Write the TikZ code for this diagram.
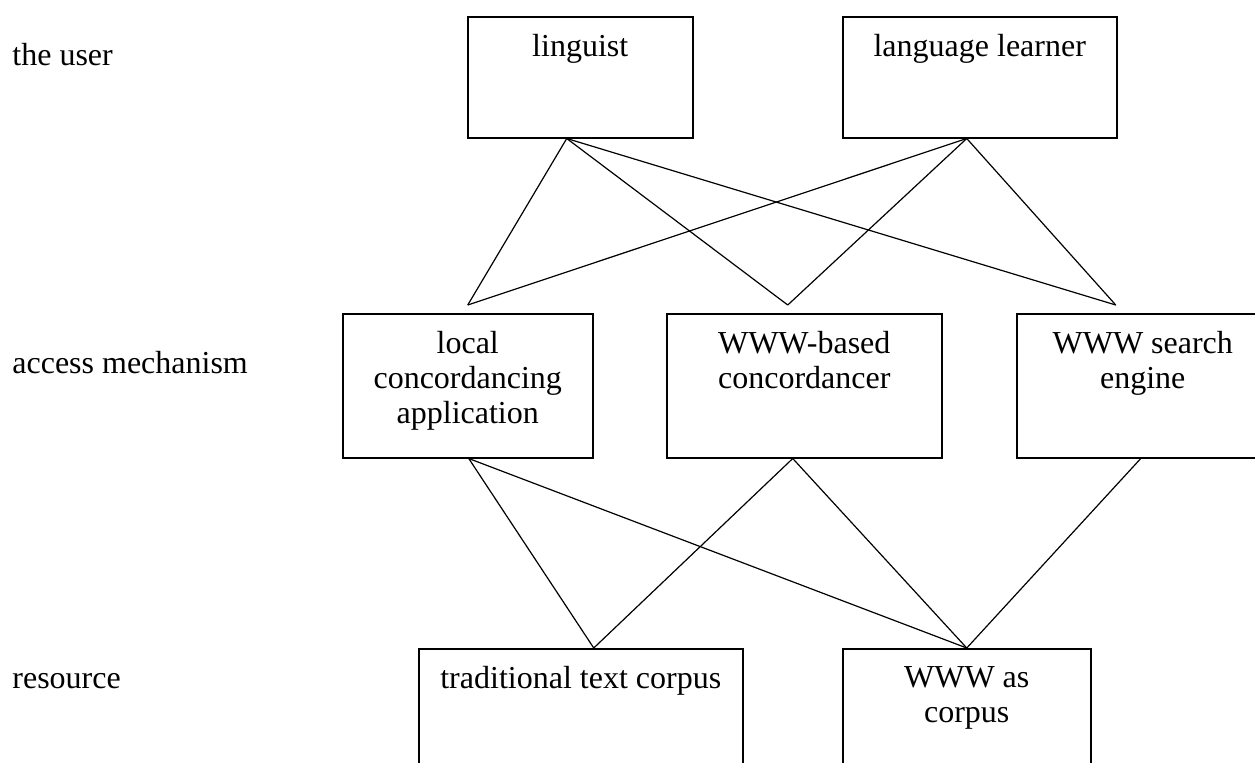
\documentclass[tikz,border=0pt]{standalone}
\usepackage{fontspec}
\setmainfont{Liberation Serif}
\usepackage{tikz}
\tikzset{
  box/.style={draw=black, line width=0.75pt, inner sep=0pt},
  boxtext/.style={anchor=north, align=center, inner sep=0pt},
  rowlabel/.style={anchor=base west, inner sep=0pt},
  link/.style={draw=black, line width=0.6pt}
}
\newcommand{\unitbox}[5]{%
 \node ({#1}) [box, anchor=north west, minimum width={#3}, minimum height={#4}] at ({#2}) {};%
 \node ({#1-text}) [boxtext] at ([yshift=-9pt]{#1}.north) {#5};%
}

\begin{document}
\begin{tikzpicture}[x=0.5pt, y=-0.5pt, every node/.style={font=\fontsize{16}{17.5}\selectfont}]
   \useasboundingbox (0,0) rectangle (1255,762);
   \clip (0,0) rectangle (1255,762);
   % row labels
   \node (user-label) [rowlabel] at (12,65) {the user};
   \node (access-label) [rowlabel] at (12,373) {access mechanism};
   \node (resource-label) [rowlabel] at (12,688) {resource};
   % the user
   \unitbox{linguist}{467,16}{112.5pt}{60.5pt}{linguist};
   \unitbox{learner}{842,16}{137pt}{60.5pt}{language learner};
   % access mechanism
   \unitbox{local}{342,313}{125pt}{72pt}{local\\concordancing\\application};
   \unitbox{wwwconc}{666,313}{137.5pt}{72pt}{WWW-based\\concordancer};
   \unitbox{search}{1016,313}{126pt}{72pt}{WWW search\\engine};
   % resource
   \unitbox{trad}{418,648}{162pt}{72pt}{traditional text corpus};
   \unitbox{wwwcorpus}{842,648}{124pt}{72pt}{WWW as\\corpus};
   % ports
   \coordinate (linguist-out) at ([xshift=-6.75pt]linguist.south);
   \coordinate (learner-out) at ([xshift=-6.5pt]learner.south);
   \coordinate (local-in) at ([yshift=4pt]local.north);
   \coordinate (wwwconc-in) at ([xshift=-8.25pt, yshift=4pt]wwwconc.north);
   \coordinate (search-in) at ([xshift=-13.5pt, yshift=4pt]search.north);
   \coordinate (local-out) at ([xshift=0.5pt]local.south);
   \coordinate (wwwconc-out) at ([xshift=-5.75pt]wwwconc.south);
   \coordinate (search-out) at ([xshift=-1pt]search.south);
   \coordinate (trad-in) at ([xshift=6.5pt]trad.north);
   \coordinate (wwwcorpus-in) at (wwwcorpus.north);
   % user -> access
   \draw[link] (linguist-out) -- (local-in);
   \draw[link] (linguist-out) -- (wwwconc-in);
   \draw[link] (linguist-out) -- (search-in);
   \draw[link] (learner-out) -- (local-in);
   \draw[link] (learner-out) -- (wwwconc-in);
   \draw[link] (learner-out) -- (search-in);
   % access -> resource
   \draw[link] (local-out) -- (trad-in);
   \draw[link] (local-out) -- (wwwcorpus-in);
   \draw[link] (wwwconc-out) -- (trad-in);
   \draw[link] (wwwconc-out) -- (wwwcorpus-in);
   \draw[link] (search-out) -- (wwwcorpus-in);
  \end{tikzpicture}
\end{document}
